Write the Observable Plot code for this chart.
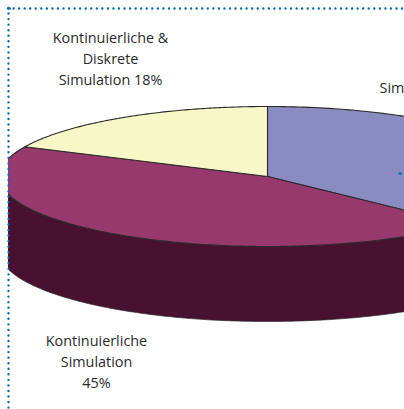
<!DOCTYPE html>
<html>
<head>
<meta charset="utf-8">
<script src="https://cdn.jsdelivr.net/npm/d3@7"></script>
<script src="https://cdn.jsdelivr.net/npm/@observablehq/plot@0.6"></script>
<style>
html,body{margin:0;padding:0;background:#fff;overflow:hidden}
svg{display:block}
</style>
</head>
<body>
<div id="chart"></div>
<script>
// Data: start at 12 o'clock and run clockwise
const categories = ["Simulation", "Kontinuierliche Simulation", "Kontinuierliche & Diskrete Simulation"];
const shares = [37, 45, 18];
const sliceColors = ["#8a8bc1", "#97396c", "#f8f7c8"];
const wallColor = "#47112f";
const borderColor = "#0a6ab5";
const labelTexts = ["Sim", "Kontinuierliche\nSimulation\n45%", "Kontinuierliche &\nDiskrete\nSimulation 18%"];

// Ellipse placement on the page (pixels)
const W = 404, H = 409;
const cx = 267, cy = 176, rx = 268, ry = 70, depth = 75;
const toX = (p) => (p - cx) / rx;
const toY = (p) => (cy - p) / ry;
const wallDrop = depth / ry;

const slices = [];
let cum = 0;
shares.forEach((s, i) => {
  const a0 = cum / 100 * 2 * Math.PI;
  const a1 = (cum + s) / 100 * 2 * Math.PI;
  cum += s;
  const n = 120;
  slices.push({name: categories[i], x: 0, y: 0});
  for (let k = 0; k <= n; k++) {
    const a = a0 + (a1 - a0) * k / n;
    slices.push({name: categories[i], x: Math.sin(a), y: Math.cos(a)});
  }
  slices.push({name: categories[i], x: 0, y: 0});
});

const wall = [];
for (let k = 0; k <= 240; k++) {
  const a = Math.PI * k / 240;
  wall.push({name: "wall", x: Math.cos(a), y: -Math.sin(a)});
}
for (let k = 240; k >= 0; k--) {
  const a = Math.PI * k / 240;
  wall.push({name: "wall", x: Math.cos(a), y: -Math.sin(a) - wallDrop});
}
wall.push(wall[0]);

const labels = [
  {t: labelTexts[0], x: toX(379), y: toY(86), anchor: "start"},
  {t: labelTexts[1], x: toX(96), y: toY(360), anchor: "middle"},
  {t: labelTexts[2], x: toX(110), y: toY(57), anchor: "middle"}
];

const font = "'Open Sans', 'Noto Sans', sans-serif";

const plot = Plot.plot({
  width: W, height: H,
  margin: 0, marginLeft: 8,
  style: {background: "#fff", fontFamily: font},
  x: {domain: [toX(8), toX(W)], range: [8, W], axis: null},
  y: {domain: [toY(H), toY(0)], range: [H, 0], axis: null},
  color: {domain: [...categories, "wall"], range: [...sliceColors, wallColor]},
  marks: [
    Plot.line(wall, {x: "x", y: "y", z: "name", fill: "name", stroke: "#2a2a2a", strokeWidth: 0.7, clip: true}),
    Plot.line(slices, {x: "x", y: "y", z: "name", fill: "name", stroke: "#2a2a2a", strokeWidth: 1.1, clip: true}),
    Plot.ruleY([toY(8)], {x1: toX(8), x2: toX(W), stroke: borderColor, strokeWidth: 2.4, strokeDasharray: "0 5.55", strokeLinecap: "round"}),
    Plot.ruleX([toX(8)], {y1: toY(8), y2: toY(H), stroke: borderColor, strokeWidth: 2.4, strokeDasharray: "0 5.55", strokeLinecap: "round"}),
    Plot.ruleY([toY(8)], {x1: toX(8), x2: toX(11), stroke: borderColor, strokeWidth: 2}),
    Plot.ruleY([toY(173)], {x1: toX(398.5), x2: toX(402), stroke: borderColor, strokeWidth: 2}),
    ...labels.map(l =>
      Plot.text([l], {x: "x", y: "y", text: "t", textAnchor: l.anchor, lineAnchor: "middle", lineHeight: 1.47, fontSize: 14.4, fill: "#2b2b2b"})
    )
  ]
});
document.getElementById("chart").appendChild(plot);
</script>
</body>
</html>
